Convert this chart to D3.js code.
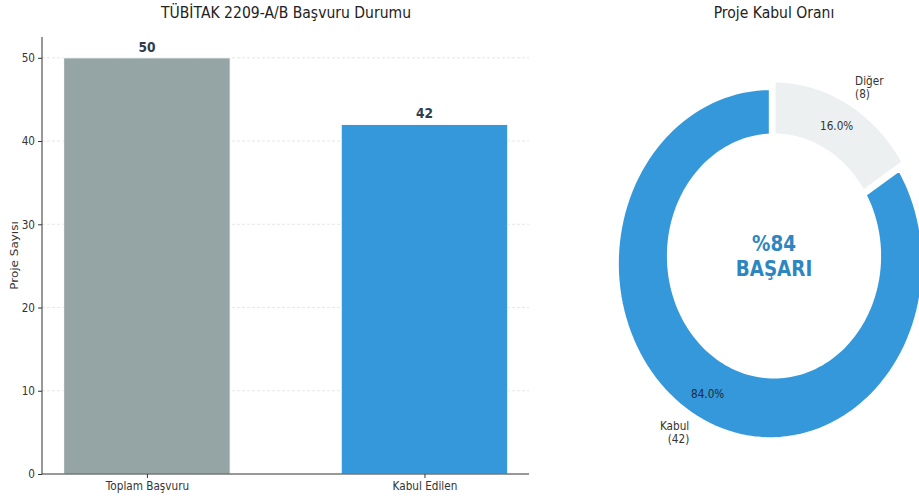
<!DOCTYPE html>
<html><head><meta charset="utf-8">
<script src="https://cdn.jsdelivr.net/npm/d3@7"></script>
<style>
body{margin:0;background:#fff;}
svg{display:block;font-family:"DejaVu Sans",sans-serif;}
</style></head>
<body>
<svg id="c" width="919" height="502"></svg>
<script>
// ---- data ----
const barCategories = ["Toplam Başvuru", "Kabul Edilen"];
const barValues = [50, 42];
const barColors = ["#95a5a6", "#3498db"];
const yTicks = [0, 10, 20, 30, 40, 50];
const pieLabels = ["Kabul", "Diğer"];
const pieValues = [42, 8];
const pieColors = ["#3498db", "#ecf0f1"];
const pieExplode = [0.05, 0];
const barTitle = "TÜBİTAK 2209-A/B Başvuru Durumu";
const pieTitle = "Proje Kabul Oranı";
const yLabel = "Proje Sayısı";
const centerText = ["%84", "BAŞARI"];

const K = 0.874; // horizontal squash of the original picture
const svg = d3.select("#c");

function txt(x, y, s, opts) {
  const t = svg.append("text")
    .attr("transform", `translate(${x},${y}) scale(${K},1)`)
    .attr("text-anchor", opts.anchor || "middle")
    .attr("font-size", opts.size).attr("fill", opts.fill || "#333");
  if (opts.bold) t.attr("font-weight", "bold");
  if (opts.dy) t.attr("dy", opts.dy);
  t.text(s);
  return t;
}

// ---- bar chart ----
const L = 42, R = 529, T = 37, B = 474;
const x = d3.scaleLinear().domain([-0.378, 1.3766]).range([L, R]);
const y = d3.scaleLinear().domain([0, 52.5]).range([B, T]);
const bw = 0.6;

svg.append("g").selectAll("line").data(yTicks.slice(1)).join("line")
  .attr("x1", L).attr("x2", R).attr("y1", d => y(d)).attr("y2", d => y(d))
  .attr("stroke", "#dddddd").attr("stroke-width", 0.7).attr("stroke-dasharray", "3,2");

svg.append("g").selectAll("rect").data(barValues).join("rect")
  .attr("x", (d, i) => x(i - bw / 2)).attr("width", x(bw) - x(0))
  .attr("y", d => y(d)).attr("height", d => y(0) - y(d))
  .attr("fill", (d, i) => barColors[i]).attr("stroke", "#ffffff").attr("stroke-width", 1);

barValues.forEach((d, i) => txt(x(i), y(d) - 6, d, { size: 14, bold: true, fill: "#2c3e50" }));

const yAxis = svg.append("g").attr("transform", `translate(${L},0)`)
  .call(d3.axisLeft(y).tickValues(yTicks).tickSize(4).tickPadding(3));
yAxis.select(".domain").attr("d", `M0,${T}V${B}`);
const xAxis = svg.append("g").attr("transform", `translate(0,${B})`)
  .call(d3.axisBottom(x).tickValues([0, 1]).tickFormat(i => barCategories[i]).tickSize(4).tickPadding(3));
xAxis.select(".domain").attr("d", `M${L},0H${R}`);
[yAxis, xAxis].forEach(a => {
  a.selectAll(".domain").attr("stroke", "#333").attr("stroke-width", 1);
  a.selectAll(".tick line").attr("stroke", "#333");
  a.selectAll("text").attr("font-size", 12).attr("fill", "#333")
    .attr("font-family", "DejaVu Sans").attr("transform", `scale(${K},1)`);
});
yAxis.selectAll("text").attr("x", -7 / K);

txt(286, 18, barTitle, { size: 16, fill: "#222" });
svg.append("text").attr("transform", `translate(18,${(T + B) / 2}) rotate(-90) scale(1,${K})`)
  .attr("text-anchor", "middle").attr("font-size", 12).attr("fill", "#333").text(yLabel);

// ---- donut ----
const cx = 774, cy = 256, Rx = 153, Ry = 175;
const px = d3.scaleLinear().domain([-1, 1]).range([cx - Rx, cx + Rx]);
const py = d3.scaleLinear().domain([-1, 1]).range([cy + Ry, cy - Ry]);
const pie = d3.pie().sort(null)(pieValues);
const total = d3.sum(pieValues);
const toMath = a => Math.PI / 2 + a; // counterclockwise from top

const line = d3.line().x(d => px(d[0])).y(d => py(d[1]));
pie.forEach((p, i) => {
  const a0 = toMath(p.startAngle), a1 = toMath(p.endAngle);
  const mid = (a0 + a1) / 2;
  const ox = pieExplode[i] * Math.cos(mid), oy = pieExplode[i] * Math.sin(mid);
  const pts = [[ox, oy]];
  const n = 120;
  for (let k = 0; k <= n; k++) {
    const a = a0 + (a1 - a0) * k / n;
    pts.push([ox + Math.cos(a), oy + Math.sin(a)]);
  }
  svg.append("path").attr("d", line(pts) + "Z").attr("fill", pieColors[i])
    .attr("stroke", "#fff").attr("stroke-width", 3).attr("stroke-linejoin", "round");
  p.mid = mid; p.ox = ox; p.oy = oy;
});

const hole = [];
for (let k = 0; k <= 200; k++) { const a = 2 * Math.PI * k / 200; hole.push([0.7 * Math.cos(a), 0.7 * Math.sin(a)]); }
svg.append("path").attr("d", line(hole) + "Z").attr("fill", "#fff");

pie.forEach((p, i) => {
  const c = Math.cos(p.mid), s = Math.sin(p.mid);
  const lx = px(p.ox + 1.1 * c), ly = py(p.oy + 1.1 * s);
  const anchor = c < 0 ? "end" : "start";
  txt(lx, ly - 2, pieLabels[i], { size: 12, anchor });
  txt(lx, ly + 11, `(${pieValues[i]})`, { size: 12, anchor });
  txt(px(p.ox + 0.85 * c), py(p.oy + 0.85 * s), (pieValues[i] / total * 100).toFixed(1) + "%",
    { size: 12, fill: i === 0 ? "#1a2a3a" : "#333", dy: "0.35em" });
});

txt(cx, 251, centerText[0], { size: 21, bold: true, fill: "#2e86c1" });
txt(cx, 276, centerText[1], { size: 21, bold: true, fill: "#2e86c1" });
txt(cx, 18, pieTitle, { size: 16, fill: "#222" });
</script>
</body></html>
